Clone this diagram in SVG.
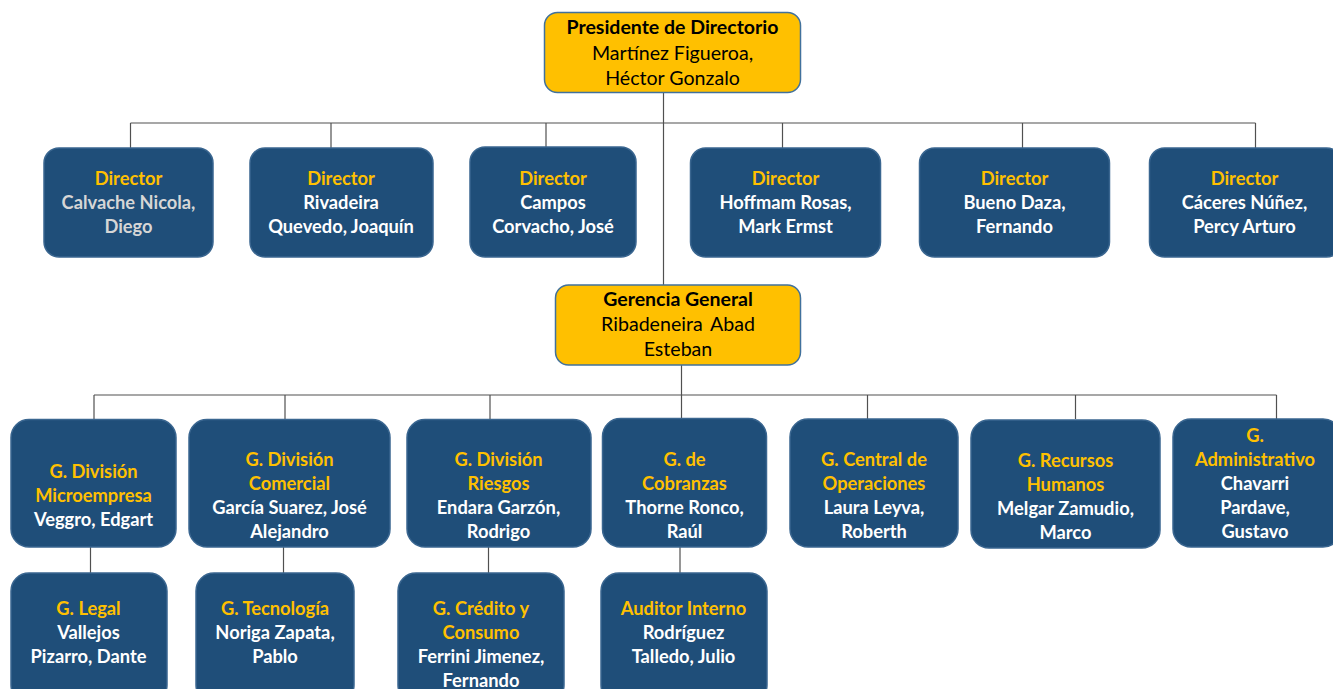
<svg xmlns="http://www.w3.org/2000/svg" width="1333" height="689" viewBox="0 0 1333 689">
<style>
.y{fill:#ffc000;stroke:#41719c;stroke-width:1.5}
.b{fill:#1f4e79;stroke:#3a6690;stroke-width:1.5}
text{font-family:Lato,"Open Sans","Liberation Sans",sans-serif;font-size:18.3px;text-anchor:middle}
.k{fill:#000;font-size:19.6px}
.kb{fill:#000;font-weight:bold;font-size:19.5px}
.t{fill:#ffc000;font-weight:bold}
.w{fill:#ffffff;font-weight:bold}
.g{fill:#d6d6d6;font-weight:bold}
.c line{stroke:#505050;stroke-width:1.2}
</style>
<rect width="1333" height="689" fill="#ffffff"/>
<g class="c" id="connectors">
<line x1="663.5" y1="92" x2="663.5" y2="285"/>
<line x1="130.5" y1="123" x2="1255.5" y2="123"/>
<line x1="130.5" y1="123" x2="130.5" y2="148"/>
<line x1="331" y1="123" x2="331" y2="148"/>
<line x1="546" y1="123" x2="546" y2="148"/>
<line x1="782.5" y1="123" x2="782.5" y2="148"/>
<line x1="1022.5" y1="123" x2="1022.5" y2="148"/>
<line x1="1255.5" y1="123" x2="1255.5" y2="148"/>
<line x1="681.5" y1="365" x2="681.5" y2="395"/>
<line x1="94" y1="395" x2="1276.5" y2="395"/>
<line x1="94" y1="395" x2="94" y2="419"/>
<line x1="285" y1="395" x2="285" y2="419"/>
<line x1="490" y1="395" x2="490" y2="419"/>
<line x1="681.5" y1="395" x2="681.5" y2="419"/>
<line x1="867.5" y1="395" x2="867.5" y2="419"/>
<line x1="1075.5" y1="395" x2="1075.5" y2="419"/>
<line x1="1276.5" y1="395" x2="1276.5" y2="419"/>
<line x1="90.5" y1="547" x2="90.5" y2="573"/>
<line x1="283.5" y1="547" x2="283.5" y2="573"/>
<line x1="488.5" y1="547" x2="488.5" y2="573"/>
<line x1="680" y1="547" x2="680" y2="573"/>
</g>
<g id="presidente">
<rect class="y" x="544.5" y="12.5" width="256" height="80" rx="13"/>
<text x="672.5" y="34" class="kb">Presidente de Directorio</text>
<text x="672.5" y="59.5" class="k">Martínez Figueroa,</text>
<text x="672.5" y="84.5" class="k">Héctor Gonzalo</text>
</g>
<g id="dir1">
<rect class="b" x="44" y="148" width="169" height="109" rx="15"/>
<text x="128.5" y="185" class="t">Director</text>
<text x="128.5" y="209" class="g">Calvache Nicola,</text>
<text x="128.5" y="233" class="g">Diego</text>
</g>
<g id="dir2">
<rect class="b" x="250" y="148" width="183" height="109" rx="15"/>
<text x="341" y="185" class="t">Director</text>
<text x="341" y="209" class="w">Rivadeira</text>
<text x="341" y="233" class="w">Quevedo, Joaquín</text>
</g>
<g id="dir3">
<rect class="b" x="470" y="147" width="166" height="110" rx="15"/>
<text x="553" y="185" class="t">Director</text>
<text x="553" y="209" class="w">Campos</text>
<text x="553" y="233" class="w">Corvacho, José</text>
</g>
<g id="dir4">
<rect class="b" x="690.5" y="148" width="190" height="109" rx="15"/>
<text x="785.5" y="185" class="t">Director</text>
<text x="785.5" y="209" class="w">Hoffmam Rosas,</text>
<text x="785.5" y="233" class="w">Mark Ermst</text>
</g>
<g id="dir5">
<rect class="b" x="919.5" y="148" width="190" height="109" rx="15"/>
<text x="1014.5" y="185" class="t">Director</text>
<text x="1014.5" y="209" class="w">Bueno Daza,</text>
<text x="1014.5" y="233" class="w">Fernando</text>
</g>
<g id="dir6">
<rect class="b" x="1149.5" y="148" width="192" height="109" rx="15"/>
<text x="1244.5" y="185" class="t">Director</text>
<text x="1244.5" y="209" class="w">Cáceres Núñez,</text>
<text x="1244.5" y="233" class="w">Percy Arturo</text>
</g>
<g id="gerencia">
<rect class="y" x="555.5" y="285" width="245" height="80" rx="13"/>
<text x="678" y="305.5" class="kb">Gerencia General</text>
<text x="678" y="331" class="k" word-spacing="3">Ribadeneira Abad</text>
<text x="678" y="356" class="k">Esteban</text>
</g>
<g id="g1">
<rect class="b" x="11" y="419.5" width="165" height="127.5" rx="18"/>
<text x="93.5" y="478" class="t">G. División</text>
<text x="93.5" y="502" class="t">Microempresa</text>
<text x="93.5" y="526" class="w">Veggro, Edgart</text>
</g>
<g id="g2">
<rect class="b" x="189" y="419.5" width="201" height="127.5" rx="18"/>
<text x="289.5" y="466" class="t">G. División</text>
<text x="289.5" y="490" class="t">Comercial</text>
<text x="289.5" y="514" class="w">García Suarez, José</text>
<text x="289.5" y="538" class="w">Alejandro</text>
</g>
<g id="g3">
<rect class="b" x="407" y="419.5" width="184" height="127.5" rx="18"/>
<text x="498.5" y="466" class="t">G. División</text>
<text x="498.5" y="490" class="t">Riesgos</text>
<text x="498.5" y="514" class="w">Endara Garzón,</text>
<text x="498.5" y="538" class="w">Rodrigo</text>
</g>
<g id="g4">
<rect class="b" x="602.5" y="418.5" width="164" height="128.5" rx="18"/>
<text x="684.5" y="466" class="t">G. de</text>
<text x="684.5" y="490" class="t">Cobranzas</text>
<text x="684.5" y="514" class="w">Thorne Ronco,</text>
<text x="684.5" y="538" class="w">Raúl</text>
</g>
<g id="g5">
<rect class="b" x="790" y="419" width="168" height="128" rx="18"/>
<text x="874" y="466" class="t">G. Central de</text>
<text x="874" y="490" class="t">Operaciones</text>
<text x="874" y="514" class="w">Laura Leyva,</text>
<text x="874" y="538" class="w">Roberth</text>
</g>
<g id="g6">
<rect class="b" x="971" y="420" width="189" height="128" rx="18"/>
<text x="1065.5" y="467" class="t">G. Recursos</text>
<text x="1065.5" y="491" class="t">Humanos</text>
<text x="1065.5" y="515" class="w">Melgar Zamudio,</text>
<text x="1065.5" y="539" class="w">Marco</text>
</g>
<g id="g7">
<rect class="b" x="1173" y="419" width="168" height="128" rx="18"/>
<text x="1255" y="442" class="t">G.</text>
<text x="1255" y="466" class="t">Administrativo</text>
<text x="1255" y="490" class="w">Chavarri</text>
<text x="1255" y="514" class="w">Pardave,</text>
<text x="1255" y="538" class="w">Gustavo</text>
</g>
<g id="l1">
<rect class="b" x="11" y="573" width="156" height="130" rx="18"/>
<text x="88.5" y="615" class="t">G. Legal</text>
<text x="88.5" y="639" class="w">Vallejos</text>
<text x="88.5" y="663" class="w">Pizarro, Dante</text>
</g>
<g id="l2">
<rect class="b" x="196" y="573" width="158" height="130" rx="18"/>
<text x="275" y="615" class="t">G. Tecnología</text>
<text x="275" y="639" class="w">Noriga Zapata,</text>
<text x="275" y="663" class="w">Pablo</text>
</g>
<g id="l3">
<rect class="b" x="398" y="573" width="166" height="130" rx="18"/>
<text x="481" y="615" class="t">G. Crédito y</text>
<text x="481" y="639" class="t">Consumo</text>
<text x="481" y="663" class="w">Ferrini Jimenez,</text>
<text x="481" y="687" class="w">Fernando</text>
</g>
<g id="l4">
<rect class="b" x="601" y="573" width="166" height="130" rx="18"/>
<text x="683.5" y="615" class="t">Auditor Interno</text>
<text x="683.5" y="639" class="w">Rodríguez</text>
<text x="683.5" y="663" class="w">Talledo, Julio</text>
</g>
</svg>
